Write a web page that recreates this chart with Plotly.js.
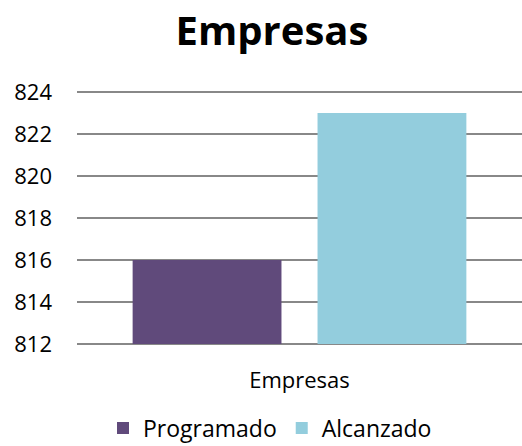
<!DOCTYPE html>
<html><head><meta charset="utf-8">
<script src="https://cdn.plot.ly/plotly-3.0.1.min.js"></script>
<style>html,body{margin:0;padding:0;background:#fff}#chart{width:522px;height:446px}</style>
</head><body><div id="chart"></div>
<script>
const categories = ["Empresas"];
const seriesNames = ["Programado", "Alcanzado"];
const programado = [816];
const alcanzado = [823];
const colors = ["#604a7b", "#93cddd"];
const yTicks = [812, 814, 816, 818, 820, 822, 824];
const yMin = 812, yMax = 824;

const font = "Open Sans, Noto Sans, sans-serif";
const data = [
  {type: "bar", name: seriesNames[0], x: categories, y: programado.map(v => v - yMin), base: yMin, marker: {color: colors[0]}, hoverinfo: "skip"},
  {type: "bar", name: seriesNames[1], x: categories, y: alcanzado.map(v => v - yMin), base: yMin, marker: {color: colors[1]}, hoverinfo: "skip"}
];

const layout = {
  width: 522, height: 446,
  margin: {l: 77, r: 0, t: 90, b: 100},
  paper_bgcolor: "#fff", plot_bgcolor: "#fff",
  font: {family: font, color: "#000", size: 20},
  title: {text: "<b>Empresas</b>", font: {family: font, size: 40, color: "#000"},
          x: 0.521, xref: "container", xanchor: "center", y: 1 - 31/446, yref: "container", yanchor: "middle"},
  barmode: "group", bargap: 0.169, bargroupgap: 0.195,
  xaxis: {showgrid: false, showline: false, zeroline: false, ticks: "", ticklabelstandoff: 19,
          tickfont: {family: font, size: 22, color: "#000"}},
  yaxis: {range: [yMin - 0.1, yMax + 0.1], tickvals: yTicks, ticktext: yTicks.map(String),
          showgrid: true, gridcolor: "#888", gridwidth: 1.5, zeroline: false, showline: false,
          ticks: "", ticklabelstandoff: 24, tickfont: {family: font, size: 22, color: "#000"}},
  legend: {orientation: "h", x: 103/522, xref: "container", xanchor: "left", y: 1 - 428/446, yref: "container", yanchor: "middle",
           font: {family: font, size: 23, color: "#000"}, traceorder: "normal"},
  showlegend: true
};
Plotly.newPlot("chart", data, layout, {displayModeBar: false, staticPlot: true});
</script></body></html>
